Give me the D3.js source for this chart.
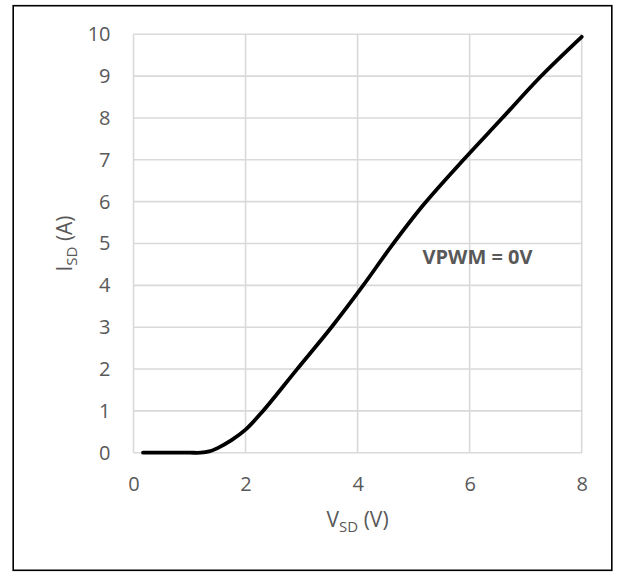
<!DOCTYPE html>
<html>
<head>
<meta charset="utf-8">
<script src="https://cdn.jsdelivr.net/npm/d3@7/dist/d3.min.js"></script>
<style>
  html, body { margin: 0; padding: 0; background: #fff; }
  svg { display: block; }
  text { font-family: "Open Sans", "Liberation Sans", sans-serif; fill: #595959; }
</style>
</head>
<body>
<svg id="chart" width="618" height="572"></svg>
<script>
// Data
const vsd = [0.17, 0.6, 1.0, 1.2, 1.35, 1.5, 1.75, 2.0, 2.3, 2.91, 3.54, 4.09, 4.6, 5.18, 5.89, 6.57, 7.26, 8.0];
const isd = [0, 0, 0, 0, 0.03, 0.11, 0.3, 0.55, 0.98, 1.98, 3.01, 3.98, 4.93, 5.93, 7.0, 7.98, 8.98, 9.94];
const xTicks = [0, 2, 4, 6, 8];
const yTicks = [0, 1, 2, 3, 4, 5, 6, 7, 8, 9, 10];
const annotation = "VPWM = 0V";

const svg = d3.select("#chart");
const pLeft = 133.5, pRight = 581.7, pTop = 34.3, pBottom = 452.7;

const x = d3.scaleLinear().domain([0, 8]).range([pLeft, pRight]);
const y = d3.scaleLinear().domain([0, 10]).range([pBottom, pTop]);

// outer border
svg.append("rect")
  .attr("x", 13.2).attr("y", 5.7)
  .attr("width", 598.6).attr("height", 564.6)
  .attr("fill", "#fff").attr("stroke", "#000").attr("stroke-width", 1.6);

// gridlines
const grid = svg.append("g");
grid.selectAll("line.h").data(yTicks).enter().append("line")
  .attr("class", "h")
  .attr("x1", x(0)).attr("x2", x(8))
  .attr("y1", d => y(d)).attr("y2", d => y(d))
  .attr("stroke", "#d9d9d9").attr("stroke-width", 1.6);
grid.selectAll("line.v").data(xTicks).enter().append("line")
  .attr("class", "v")
  .attr("y1", y(0)).attr("y2", y(10))
  .attr("x1", d => x(d)).attr("x2", d => x(d))
  .attr("stroke", "#d9d9d9").attr("stroke-width", 1.6);

// axes (labels only)
const yAxis = d3.axisLeft(y).tickValues(yTicks).tickSize(0).tickPadding(23).tickFormat(d3.format("d"));
const gy = svg.append("g").attr("transform", `translate(${pLeft},0)`).call(yAxis);
gy.select(".domain").remove();
gy.selectAll("text").style("font-size", "20px").style("font-family", "'Open Sans', sans-serif").attr("fill", "#595959");

const xAxis = d3.axisBottom(x).tickValues(xTicks).tickSize(0).tickPadding(24).tickFormat(d3.format("d"));
const gx = svg.append("g").attr("transform", `translate(0,${pBottom})`).call(xAxis);
gx.select(".domain").remove();
gx.selectAll("text").style("font-size", "20px").style("font-family", "'Open Sans', sans-serif").attr("fill", "#595959");

// curve
const pts = vsd.map((v, i) => [v, isd[i]]);
const line = d3.line().x(d => x(d[0])).y(d => y(d[1])).curve(d3.curveCatmullRom.alpha(0.5));
svg.append("path").datum(pts)
  .attr("d", line)
  .attr("fill", "none").attr("stroke", "#000")
  .attr("stroke-width", 3.8).attr("stroke-linecap", "round").attr("stroke-linejoin", "round");

// annotation
svg.append("text")
  .attr("x", 422.5).attr("y", 264)
  .style("font-size", "20px").style("font-weight", "bold")
  .text(annotation);

// x title
const xt = svg.append("text")
  .attr("x", (pLeft + pRight) / 2).attr("y", 527)
  .attr("text-anchor", "middle")
  .style("font-size", "21px");
xt.append("tspan").text("V");
xt.append("tspan").attr("dy", 5).style("font-size", "15px").text("SD");
xt.append("tspan").attr("dy", -5).text(" (V)");

// y title
const yt = svg.append("text")
  .attr("transform", `translate(72,${(pTop + pBottom) / 2}) rotate(-90)`)
  .attr("text-anchor", "middle")
  .style("font-size", "21px");
yt.append("tspan").text("I");
yt.append("tspan").attr("dy", 5).style("font-size", "15px").text("SD");
yt.append("tspan").attr("dy", -5).text(" (A)");
</script>
</body>
</html>
